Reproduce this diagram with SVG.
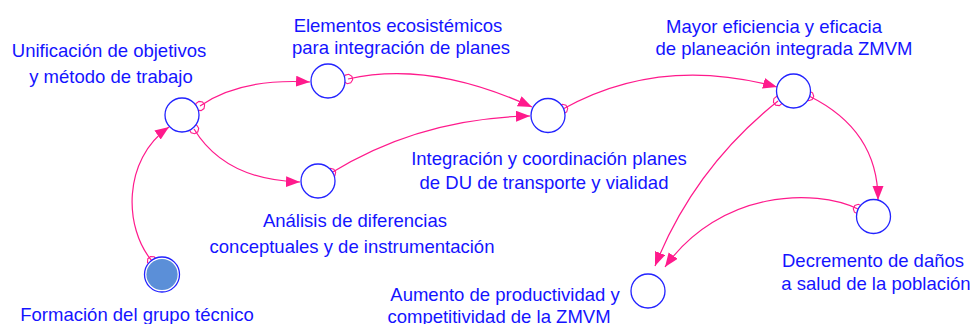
<svg xmlns="http://www.w3.org/2000/svg" width="972" height="324" viewBox="0 0 972 324">
<style>
.lbl{font-family:"Liberation Sans",Arial,sans-serif;font-size:18.5px;fill:#1414ff;text-anchor:middle}
.node{fill:#fff;stroke:#2323ff;stroke-width:1.3}
.link{fill:none;stroke:#ff1a8c;stroke-width:1.2;marker-start:url(#oct);marker-end:url(#arr)}
</style>
<defs>
<marker id="arr" markerUnits="userSpaceOnUse" markerWidth="15" markerHeight="12" refX="14" refY="5.5" orient="auto">
<path d="M0,0 L14,5.5 L0,11 z" fill="#ff1a8c"/>
</marker>
<marker id="oct" markerUnits="userSpaceOnUse" markerWidth="12" markerHeight="12" refX="6" refY="6" orient="auto">
<polygon points="4.2,1.6 7.8,1.6 10.4,4.2 10.4,7.8 7.8,10.4 4.2,10.4 1.6,7.8 1.6,4.2" fill="none" stroke="#ff1a8c" stroke-width="1.1"/>
</marker>
</defs>
<rect width="972" height="324" fill="#fff"/>
<g id="connectors">
<path class="link" d="M152,261 C124,228 122,160 169,127"/>
<path class="link" d="M200,106 Q240,78 310,82"/>
<path class="link" d="M194,129 Q225,180 300,182"/>
<path class="link" d="M348,79 Q430,60 532,107"/>
<path class="link" d="M331,173 Q420,118 530,116"/>
<path class="link" d="M563,109 Q660,55 777,87"/>
<path class="link" d="M778,101 Q694,168 655,266"/>
<path class="link" d="M809,96 Q878,130 878,200"/>
<path class="link" d="M858,209 C815,188 720,190 665,267"/>
</g>
<g id="n-unificacion">
<circle class="node" cx="182" cy="115" r="17"/>
<text class="lbl" x="109" y="57">Unificación de objetivos</text>
<text class="lbl" x="111" y="83">y método de trabajo</text>
</g>
<g id="n-elementos">
<circle class="node" cx="328" cy="81" r="17"/>
<text class="lbl" x="398" y="32">Elementos ecosistémicos</text>
<text class="lbl" x="401" y="54">para integración de planes</text>
</g>
<g id="n-analisis">
<circle class="node" cx="318" cy="181" r="17"/>
<text class="lbl" x="355" y="227">Análisis de diferencias</text>
<text class="lbl" x="352" y="253">conceptuales y de instrumentación</text>
</g>
<g id="n-integracion">
<circle class="node" cx="548" cy="115.5" r="17"/>
<text class="lbl" x="549" y="165">Integración y coordinación planes</text>
<text class="lbl" x="544" y="189">de DU de transporte y vialidad</text>
</g>
<g id="n-mayor">
<circle class="node" cx="793.5" cy="91" r="17"/>
<text class="lbl" x="774" y="33">Mayor eficiencia y eficacia</text>
<text class="lbl" x="784" y="55">de planeación integrada ZMVM</text>
</g>
<g id="n-decremento">
<circle class="node" cx="873.5" cy="216.5" r="17"/>
<text class="lbl" x="873" y="267">Decremento de daños</text>
<text class="lbl" x="876" y="290">a salud de la población</text>
</g>
<g id="n-aumento">
<circle class="node" cx="648" cy="291" r="17"/>
<text class="lbl" x="505" y="301">Aumento de productividad y</text>
<text class="lbl" x="499" y="323">competitividad de la ZMVM</text>
</g>
<g id="n-formacion">
<circle class="node" cx="162" cy="274.5" r="17.5"/>
<circle cx="162" cy="274.5" r="15.6" fill="#5b8fd8"/>
<text class="lbl" x="137" y="321">Formación del grupo técnico</text>
</g>
</svg>
